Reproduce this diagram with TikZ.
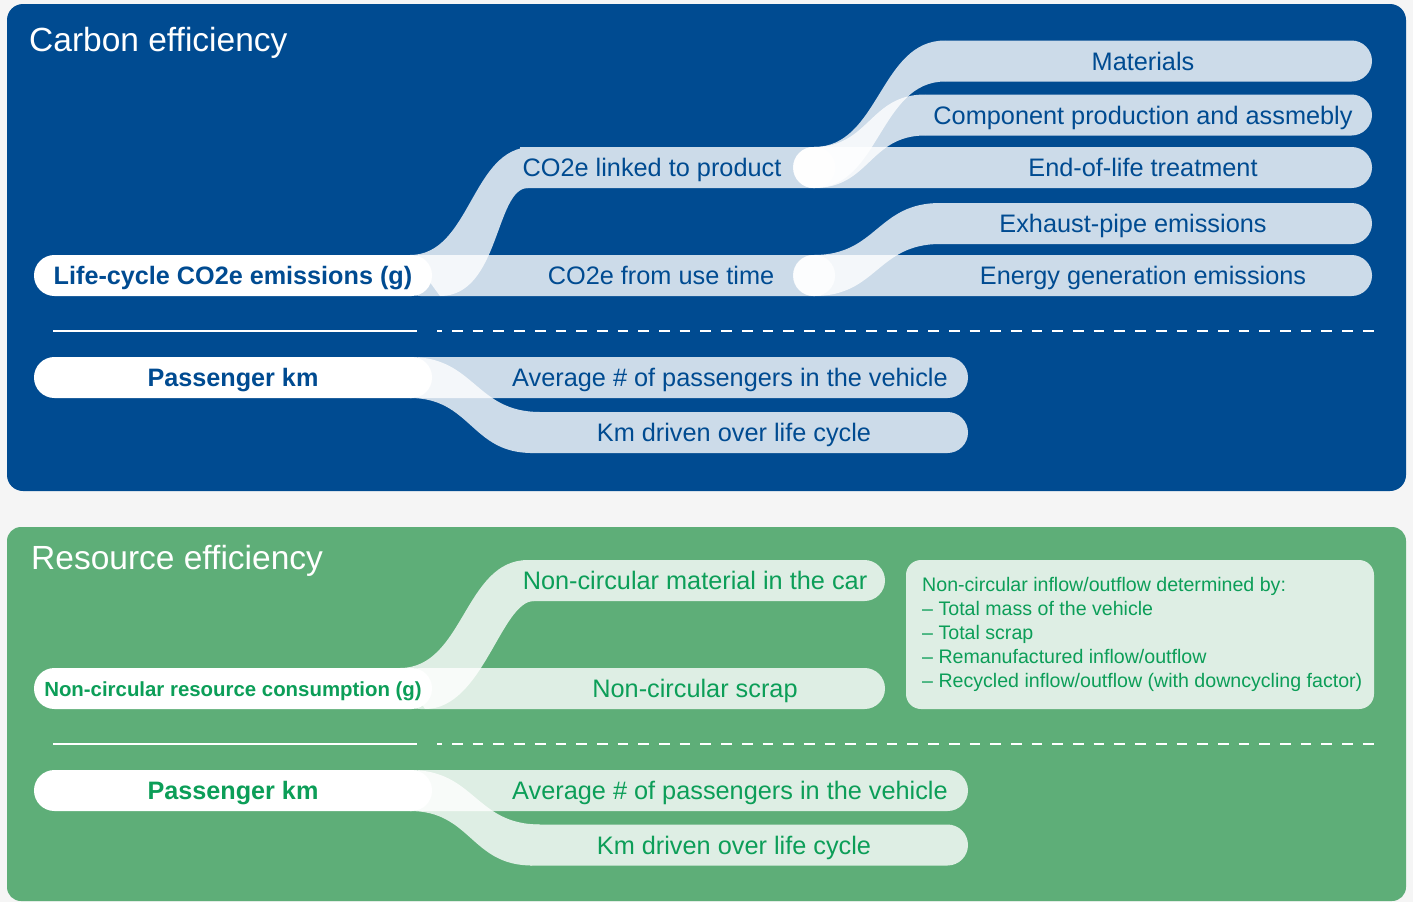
\documentclass[tikz,border=0pt]{standalone}
\usepackage{fontspec}
\setmainfont{Liberation Sans}
\usetikzlibrary{calc}
\definecolor{bgc}{HTML}{F5F5F5}
\definecolor{cblue}{RGB}{0,75,145}
\definecolor{cgreen}{RGB}{94,174,120}
\definecolor{tgreen}{RGB}{12,158,88}
\tikzset{
  lbl/.style={font=\fontsize{25.3}{30}\selectfont, text=cblue, inner sep=0pt, anchor=base},
  lblg/.style={lbl, text=tgreen},
  lblb/.style={font=\bfseries\fontsize{25.2}{30}\selectfont, text=cblue, inner sep=0pt, anchor=base},
  lblbg/.style={lblb, text=tgreen},
  ttl/.style={font=\fontsize{33.5}{36}\selectfont, text=white, inner sep=0pt, anchor=base west},
  info/.style={font=\fontsize{19.6}{24}\selectfont, text=tgreen, inner sep=0pt, anchor=base west},
  pill/.style={fill=white, rounded corners=20.4pt},
  bandcol/.style={fill=white},
  grp/.style={transparency group},
  solidrule/.style={draw=white, line width=1.3pt},
  dashrule/.style={draw=white, line width=1.3pt, dash pattern=on 10.7pt off 10pt, dash phase=5.7pt},
}
% band with two round ends: x1, x2, y-centre (image pixels)
\newcommand\bandfill[3]{\fill[bandcol, rounded corners=20.4pt] (#1,#3-20.5) rectangle (#2,#3+20.5);}
% band with square left end (joined to a ribbon) and round right end
\newcommand\bandRfill[3]{\fill[bandcol] (#1,#3-20.5) -- (#2-20.5,#3-20.5) arc[start angle=-90, end angle=90, radius=20.5] -- (#1,#3+20.5) -- cycle;}
% ribbon: #1 start (parent row), #2 end (child row),
% #3/#4 shift of the lower edge at start/end, #5/#6 control offsets of the lower edge (child side / parent side)
\newcommand\ribbonfill[6]{\fill[bandcol] let \p1=(#1), \p2=(#2) in
  (\x1,\y1+20.5pt) .. controls ({0.5*\x1+0.5*\x2},\y1+20.5pt) and ({0.5*\x1+0.5*\x2},\y2+20.5pt) .. (\x2,\y2+20.5pt)
  -- ({\x2+#4},{\y2-20.5pt}) .. controls ({\x2+#4+#5},{\y2-20.5pt}) and ({\x1+#3+#6},{\y1-20.5pt}) .. ({\x1+#3},{\y1-20.5pt}) -- cycle;}
\newcommand\stubfill[1]{\fill[bandcol] (#1) circle[radius=20.5];}
\begin{document}
\begin{tikzpicture}[x=1pt,y=-1pt]
\useasboundingbox (0,0) rectangle (1413,902);
\fill[bgc] (0,0) rectangle (1413,902);
% ---------------- panels
\fill[cblue, rounded corners=16pt] (7,4) rectangle (1406,491);
\fill[cgreen, rounded corners=14pt] (7,527) rectangle (1406,901);

% ================= CARBON EFFICIENCY
\node[ttl] (t1) at (29,51) {Carbon efficiency};
\fill[pill] (34,255) rectangle (432,296);

\coordinate (lcA) at (410,275.5);
\coordinate (prodA) at (532,167.5);
\coordinate (prodS) at (814,167.5);
\coordinate (matE) at (945,61);
\coordinate (compE) at (925,115);
\coordinate (useS) at (814,275.5);
\coordinate (exhE) at (940,223.5);
\coordinate (pkA) at (410,377.5);
\coordinate (kmE) at (540,432.5);

\begin{scope}[opacity=0.8]
 \begin{scope}[grp]
  \ribbonfill{lcA}{prodA}{30pt}{-4pt}{-33pt}{60pt}
  \bandRfill{520}{835}{167.5}
 \end{scope}
\end{scope}
\begin{scope}[opacity=0.8]
 \begin{scope}[grp] \bandfill{400}{835}{275.5} \end{scope}
\end{scope}
% children of "CO2e linked to product"
\begin{scope}[opacity=0.8]
 \begin{scope}[grp]
  \stubfill{prodS}
  \ribbonfill{prodS}{matE}{0pt}{0pt}{-65.5pt}{65.5pt}
  \bandRfill{945}{1372}{61}
 \end{scope}
\end{scope}
\begin{scope}[opacity=0.8]
 \begin{scope}[grp]
  \stubfill{prodS}
  \ribbonfill{prodS}{compE}{0pt}{0pt}{-55.5pt}{55.5pt}
  \bandRfill{925}{1372}{115}
 \end{scope}
\end{scope}
\begin{scope}[opacity=0.8]
 \begin{scope}[grp] \bandfill{793}{1372}{167.5} \end{scope}
\end{scope}
% children of "CO2e from use time"
\begin{scope}[opacity=0.8]
 \begin{scope}[grp]
  \stubfill{useS}
  \ribbonfill{useS}{exhE}{0pt}{0pt}{-63pt}{63pt}
  \bandRfill{940}{1372}{223.5}
 \end{scope}
\end{scope}
\begin{scope}[opacity=0.8]
 \begin{scope}[grp] \bandfill{793}{1372}{275.5} \end{scope}
\end{scope}

\node[lblb] (lc) at (233,284.5) {Life-cycle CO2e emissions (g)};
\node[lbl] (prod) at (652,176.5) {CO2e linked to product};
\node[lbl] (use) at (661,284.5) {CO2e from use time};
\node[lbl] (mat) at (1143,70) {Materials};
\node[lbl] (comp) at (1143,124) {Component production and assmebly};
\node[lbl] (eol) at (1143,176.5) {End-of-life treatment};
\node[lbl] (exh) at (1133,232.5) {Exhaust-pipe emissions};
\node[lbl] (ener) at (1143,284.5) {Energy generation emissions};

\path[solidrule] (53,331) -- (417,331);
\path[dashrule] (437,331) -- (1375,331);

\fill[pill] (34,357) rectangle (432,398);
\begin{scope}[opacity=0.8]
 \begin{scope}[grp] \bandfill{400}{968}{377.5} \end{scope}
\end{scope}
\begin{scope}[opacity=0.8]
 \begin{scope}[grp]
  \ribbonfill{pkA}{kmE}{0pt}{-8pt}{-61pt}{61pt}
  \bandRfill{530}{968}{432.5}
 \end{scope}
\end{scope}
\node[lblb] (pk1) at (233,386.5) {Passenger km};
\node[lbl] (avg1) at (730,386.5) {Average \# of passengers in the vehicle};
\node[lbl] (km1) at (734,441.5) {Km driven over life cycle};

% ================= RESOURCE EFFICIENCY
\node[ttl] (t2) at (31,569) {Resource efficiency};
\fill[pill] (34,668) rectangle (432,709);
\coordinate (ncA) at (400,688.5);
\coordinate (ncmE) at (528,580.5);
\coordinate (pkB) at (410,790.5);
\coordinate (kmF) at (540,845);
\begin{scope}[opacity=0.8]
 \begin{scope}[grp]
  \ribbonfill{ncA}{ncmE}{25pt}{6pt}{-33pt}{58pt}
  \bandRfill{528}{885}{580.5}
 \end{scope}
\end{scope}
\begin{scope}[opacity=0.8]
 \begin{scope}[grp] \bandfill{400}{885}{688.5} \end{scope}
\end{scope}
\node[lblbg, font=\bfseries\fontsize{20.4}{24}\selectfont] (ncr) at (233,696) {Non-circular resource consumption (g)};
\node[lblg] (ncm) at (695,589.5) {Non-circular material in the car};
\node[lblg] (ncs) at (695,697.5) {Non-circular scrap};

\fill[white, opacity=0.8, rounded corners=15pt] (906,560) rectangle (1374,709);
\node[info] (i1) at (922,591) {Non-circular inflow/outflow determined by:};
\node[info] (i2) at (922,615) {-- Total mass of the vehicle};
\node[info] (i3) at (922,639) {-- Total scrap};
\node[info] (i4) at (922,663) {-- Remanufactured inflow/outflow};
\node[info] (i5) at (922,687) {-- Recycled inflow/outflow (with downcycling factor)};

\path[solidrule] (53,744) -- (417,744);
\path[dashrule] (437,744) -- (1375,744);

\fill[pill] (34,770) rectangle (432,811);
\begin{scope}[opacity=0.8]
 \begin{scope}[grp] \bandfill{400}{968}{790.5} \end{scope}
\end{scope}
\begin{scope}[opacity=0.8]
 \begin{scope}[grp]
  \ribbonfill{pkB}{kmF}{0pt}{-8pt}{-61pt}{61pt}
  \bandRfill{530}{968}{845}
 \end{scope}
\end{scope}
\node[lblbg] (pk2) at (233,799.5) {Passenger km};
\node[lblg] (avg2) at (730,799.5) {Average \# of passengers in the vehicle};
\node[lblg] (km2) at (734,854) {Km driven over life cycle};
\end{tikzpicture}
\end{document}
